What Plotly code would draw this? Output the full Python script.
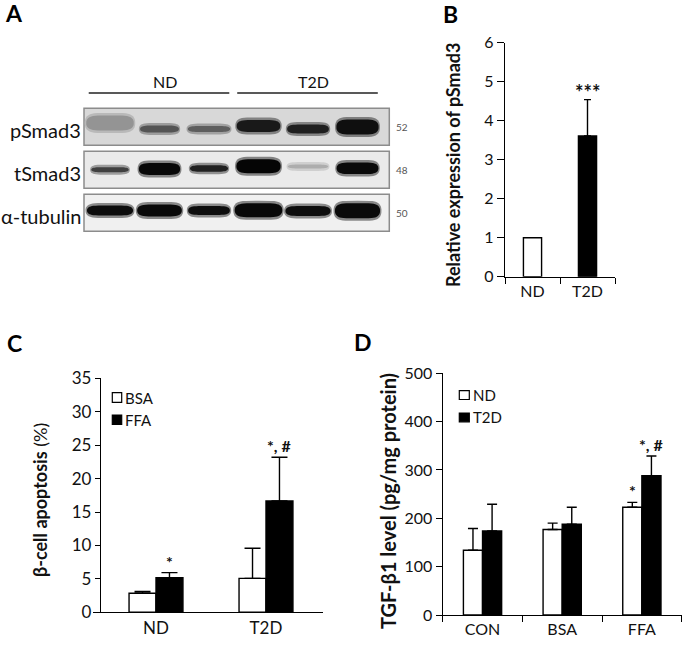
import math
import plotly.graph_objects as go

# ---------------- data ----------------
# Panel A (western blot, band densities)
blot_rows = ["pSmad3", "tSmad3", "α-tubulin"]
blot_mw = ["52", "48", "50"]
lane_groups = ["ND", "ND", "ND", "T2D", "T2D", "T2D"]
band_density = [
    [0.42, 0.67, 0.63, 0.90, 0.88, 0.94],   # pSmad3
    [0.75, 0.97, 0.87, 0.98, 0.32, 0.96],   # tSmad3
    [0.95, 0.96, 0.95, 0.97, 0.95, 0.96],   # alpha-tubulin
]
band_thickness = [
    [15, 7, 6, 12, 9, 15],
    [5, 12, 6.5, 14, 4, 11.5],
    [10, 12, 9, 14, 10, 15],
]
band_width = [
    [0.99, 0.81, 0.88, 0.91, 0.87, 0.88],
    [0.78, 0.86, 0.79, 0.92, 0.84, 0.87],
    [0.96, 0.93, 0.87, 0.99, 0.94, 0.94],
]
band_shift = [
    [-3.7, 2.3, 2.3, -0.7, 2.3, 0.3],
    [0.0, -0.7, -1.2, -3.4, -3.2, -1.4],
    [-2.2, -2.2, -2.2, -2.4, -1.7, -1.9],
]

# Panel B
b_groups = ["ND", "T2D"]
b_values = [1.0, 3.61]
b_errors = [0.0, 0.93]
b_sig = ["", "***"]

# Panel C
c_groups = ["ND", "T2D"]
c_bsa = [2.84, 5.08]
c_bsa_err = [0.26, 4.49]
c_ffa = [5.18, 16.65]
c_ffa_err = [0.75, 6.55]
c_sig_ffa = ["*", "*, #"]

# Panel D
d_groups = ["CON", "BSA", "FFA"]
d_nd = [134, 177, 223]
d_nd_err = [45, 13, 10]
d_t2d = [174, 188, 288]
d_t2d_err = [55, 35, 41]
d_sig_nd = ["", "", "*"]
d_sig_t2d = ["", "", "*, #"]

# ---------------- layout helpers ----------------
W, H = 685, 646
FONT = "Lato"
INK = "#111111"


def px(x):
    return x / W


def py(y):
    return 1 - y / H


fig = go.Figure()
shapes = []
annotations = []

bar_line = dict(color="black", width=1.4)

# ---------------- Panel B ----------------
b_colors = ["white", "black"]
for g, v, e, col in zip(b_groups, b_values, b_errors, b_colors):
    fig.add_trace(go.Bar(
        x=[g], y=[v], width=0.33, offset=-0.165,
        marker=dict(color=col, line=bar_line),
        error_y=dict(type="data", array=[e], arrayminus=[0], symmetric=False,
                     color="black", thickness=1.4, width=3.5, visible=e > 0),
        xaxis="x", yaxis="y", showlegend=False, hoverinfo="skip"))
for i, (v, e, s) in enumerate(zip(b_values, b_errors, b_sig)):
    if s:
        annotations.append(dict(x=i, y=v + e, xref="x", yref="y", text="<b>%s</b>" % s,
                                showarrow=False, xanchor="center", yanchor="bottom", yshift=-6,
                                font=dict(size=20, color=INK, family=FONT)))

# ---------------- Panel C ----------------
cw = 0.245
fig.add_trace(go.Bar(
    x=c_groups, y=c_bsa, width=cw, offset=-cw, name="BSA",
    marker=dict(color="white", line=bar_line),
    error_y=dict(type="data", array=c_bsa_err, arrayminus=[0] * len(c_bsa), symmetric=False,
                 color="black", thickness=1.4, width=8),
    xaxis="x2", yaxis="y2", showlegend=False, hoverinfo="skip"))
fig.add_trace(go.Bar(
    x=c_groups, y=c_ffa, width=cw, offset=0, name="FFA",
    marker=dict(color="black", line=bar_line),
    error_y=dict(type="data", array=c_ffa_err, arrayminus=[0] * len(c_ffa), symmetric=False,
                 color="black", thickness=1.4, width=8),
    xaxis="x2", yaxis="y2", showlegend=False, hoverinfo="skip"))
for i, (v, e, s) in enumerate(zip(c_ffa, c_ffa_err, c_sig_ffa)):
    if s:
        annotations.append(dict(x=i + cw / 2, y=v + e, xref="x2", yref="y2", text="<b>%s</b>" % s,
                                showarrow=False, xanchor="center", yanchor="bottom", yshift=0,
                                font=dict(size=16, color=INK, family=FONT)))

# ---------------- Panel D ----------------
dw = 0.24
fig.add_trace(go.Bar(
    x=d_groups, y=d_nd, width=dw, offset=-dw, name="ND",
    marker=dict(color="white", line=bar_line),
    error_y=dict(type="data", array=d_nd_err, arrayminus=[0] * len(d_nd), symmetric=False,
                 color="black", thickness=1.4, width=5),
    xaxis="x3", yaxis="y3", showlegend=False, hoverinfo="skip"))
fig.add_trace(go.Bar(
    x=d_groups, y=d_t2d, width=dw, offset=0, name="T2D",
    marker=dict(color="black", line=bar_line),
    error_y=dict(type="data", array=d_t2d_err, arrayminus=[0] * len(d_t2d), symmetric=False,
                 color="black", thickness=1.4, width=5),
    xaxis="x3", yaxis="y3", showlegend=False, hoverinfo="skip"))
for vals, errs, sigs, off in [(d_nd, d_nd_err, d_sig_nd, -dw / 2), (d_t2d, d_t2d_err, d_sig_t2d, dw / 2)]:
    for i, (v, e, s) in enumerate(zip(vals, errs, sigs)):
        if s:
            annotations.append(dict(x=i + off, y=v + e, xref="x3", yref="y3", text="<b>%s</b>" % s,
                                    showarrow=False, xanchor="center", yanchor="bottom", yshift=0,
                                    font=dict(size=16, color=INK, family=FONT)))

# ---------------- Panel A (blot) ----------------
LANE_PITCH = 49.5      # px per lane
LANE1_PX = 110.0
ROW_PITCH = 43.0       # px per row
ROW0_PX = 126.7
ax_x0, ax_x1 = 80, 394
ax_y0, ax_y1 = 70, 235
x4_range = [1 + (ax_x0 - LANE1_PX) / LANE_PITCH, 1 + (ax_x1 - LANE1_PX) / LANE_PITCH]
y4_range = [(ax_y1 - ROW0_PX) / ROW_PITCH, (ax_y0 - ROW0_PX) / ROW_PITCH]

# a blank trace to activate the blot axes
fig.add_trace(go.Scatter(x=[1, 6], y=[0, 2], mode="markers", marker=dict(opacity=0),
                         xaxis="x4", yaxis="y4", showlegend=False, hoverinfo="skip"))

box_left = 1 + (84 - LANE1_PX) / LANE_PITCH
box_right = 1 + (389.3 - LANE1_PX) / LANE_PITCH
box_fill = ["#d8d8d8", "#eaeaea", "#f0f0f0"]
box_half = 18.5 / ROW_PITCH


def gray(level):
    g = max(0, min(255, int(round(level))))
    return "rgb(%d,%d,%d)" % (g, g, g)


def band_path(cx, cy, hw, hh, n=48):
    pts = []
    for k in range(n):
        t = 2 * math.pi * k / n
        c, s = math.cos(t), math.sin(t)
        x = cx + hw * math.copysign(abs(c) ** 0.35, c)
        y = cy + hh * math.copysign(abs(s) ** 0.9, s)
        pts.append("%.4f,%.4f" % (x, y))
    return "M" + "L".join(pts) + "Z"


for r, name in enumerate(blot_rows):
    shapes.append(dict(type="rect", xref="x4", yref="y4", x0=box_left, x1=box_right,
                       y0=r - box_half, y1=r + box_half, fillcolor=box_fill[r],
                       line=dict(color="#8c8c8c", width=1.5), layer="above"))
for r, name in enumerate(blot_rows):
    bg = int(box_fill[r][1:3], 16)
    for j in range(len(lane_groups)):
        d = band_density[r][j]
        core = 255 * (1 - d)
        halo = core + (bg - core) * 0.55
        cx = j + 1
        cy = r + band_shift[r][j] / ROW_PITCH
        hw = band_width[r][j] / 2
        hh = band_thickness[r][j] / 2 / ROW_PITCH
        shapes.append(dict(type="path", xref="x4", yref="y4",
                           path=band_path(cx, cy, hw * 1.03, hh + 2.5 / ROW_PITCH),
                           fillcolor=gray(halo), line=dict(width=0), layer="above"))
        shapes.append(dict(type="path", xref="x4", yref="y4",
                           path=band_path(cx, cy, hw * 0.97, hh),
                           fillcolor=gray(core), line=dict(width=0), layer="above"))
    annotations.append(dict(x=px(83), y=r, xref="paper", yref="y4", text=name, xanchor="right",
                            yanchor="middle", yshift=-3, showarrow=False,
                            font=dict(size=20, color=INK, family=FONT)))
    annotations.append(dict(x=px(394), y=r, xref="paper", yref="y4", text=blot_mw[r], xanchor="left",
                            yanchor="middle", showarrow=False,
                            font=dict(size=10, color="#555555", family=FONT)))

# group labels and lines above blot
groups_seen = []
for g in lane_groups:
    if g not in groups_seen:
        groups_seen.append(g)
for g in groups_seen:
    lanes = [j + 1 for j, gg in enumerate(lane_groups) if gg == g]
    shapes.append(dict(type="line", xref="x4", yref="y4", x0=lanes[0] - 0.43, x1=lanes[-1] + 0.41,
                       y0=(93 - ROW0_PX) / ROW_PITCH, y1=(93 - ROW0_PX) / ROW_PITCH,
                       line=dict(color="#222222", width=1.6)))
    annotations.append(dict(x=sum(lanes) / len(lanes) + 0.12, y=(81 - ROW0_PX) / ROW_PITCH,
                            xref="x4", yref="y4", text=g, showarrow=False,
                            xanchor="center", yanchor="middle",
                            font=dict(size=16, color=INK, family=FONT)))

# ---------------- legends (manual) ----------------
def legend_item(x_sq, y_top, size_w, size_h, color, label, fs):
    shapes.append(dict(type="rect", xref="paper", yref="paper",
                       x0=px(x_sq), x1=px(x_sq + size_w), y0=py(y_top + size_h), y1=py(y_top),
                       fillcolor=color, line=dict(color="black", width=1.2)))
    annotations.append(dict(x=px(x_sq + size_w + 1.5), y=py(y_top + size_h / 2), xref="paper", yref="paper",
                            text=label, xanchor="left", yanchor="middle", showarrow=False,
                            font=dict(size=fs, color=INK, family=FONT)))


legend_item(112.3, 392.7, 9.4, 9.6, "white", "BSA", 15)
legend_item(112.3, 415.0, 9.4, 9.4, "black", "FFA", 15)
legend_item(459.3, 390.7, 10, 8.8, "white", "ND", 15)
legend_item(459.3, 413.0, 10, 8.8, "black", "T2D", 15)

# ---------------- titles & panel letters ----------------
annotations += [
    dict(x=px(453), y=py(165), xref="paper", yref="paper", text="<b>Relative expression of pSmad3</b>",
         textangle=-90, showarrow=False, xanchor="center", yanchor="middle",
         font=dict(size=18, color=INK, family=FONT)),
    dict(x=px(40), y=py(500), xref="paper", yref="paper", text="<b>β-cell apoptosis</b> (%)",
         textangle=-90, showarrow=False, xanchor="center", yanchor="middle",
         font=dict(size=18, color=INK, family=FONT)),
    dict(x=px(388), y=py(501), xref="paper", yref="paper", text="<b>TGF-β1 level (pg/mg protein)</b>",
         textangle=-90, showarrow=False, xanchor="center", yanchor="middle",
         font=dict(size=20, color=INK, family=FONT)),
]
for letter, (lx, ly) in zip("ABCD", [(14, 13), (450, 14), (14, 343), (363, 342)]):
    annotations.append(dict(x=px(lx), y=py(ly), xref="paper", yref="paper", text="<b>%s</b>" % letter,
                            showarrow=False, xanchor="center", yanchor="middle",
                            font=dict(size=23, color="black", family=FONT)))

# ---------------- axes ----------------
def yax(domain, rng, dtick, fs, **kw):
    d = dict(domain=domain, range=rng, dtick=dtick, tick0=0, showline=True, linecolor="black",
             linewidth=1.3, ticks="outside", ticklen=6, tickwidth=1.3, tickcolor="black",
             showgrid=False, zeroline=False, fixedrange=True, automargin=False,
             tickfont=dict(size=fs, color=INK, family=FONT))
    d.update(kw)
    return d


def xax(domain, cats, rng, fs, anchor, ticks=True):
    return dict(domain=domain, type="category", categoryorder="array", categoryarray=cats,
                range=rng, showline=True, linecolor="black", linewidth=1.3,
                ticks="outside" if ticks else "", tickson="boundaries", ticklen=6,
                tickwidth=1.3, tickcolor="black", showgrid=False, zeroline=False,
                fixedrange=True, anchor=anchor, automargin=False,
                tickfont=dict(size=fs, color=INK, family=FONT))


fig.update_layout(
    width=W, height=H, margin=dict(l=0, r=0, t=0, b=0, pad=0, autoexpand=False),
    paper_bgcolor="white", plot_bgcolor="rgba(0,0,0,0)",
    barmode="overlay", showlegend=False,
    font=dict(family=FONT, color=INK),
    xaxis=xax([px(505), px(615)], b_groups, [-0.5, 1.5], 16, "y"),
    yaxis=yax([py(276.7), py(42.7)], [0, 6], 1, 16, anchor="x", ticklen=7),
    xaxis2=xax([px(93.3), px(323.3)], c_groups, [-0.57, 1.521], 17, "y2", ticks=False),
    yaxis2=yax([py(612.3), py(378.3)], [0, 35], 5, 17, anchor="free", position=px(100), ticklen=5),
    xaxis3=xax([px(442.7), px(681.7)], d_groups, [-0.5, 2.5], 16, "y3"),
    yaxis3=yax([py(615), py(373.3)], [0, 500], 100, 16, anchor="x3", ticklen=6),
    xaxis4=dict(domain=[px(ax_x0), px(ax_x1)], range=x4_range, visible=False, anchor="y4", fixedrange=True),
    yaxis4=dict(domain=[py(ax_y1), py(ax_y0)], range=y4_range, visible=False, anchor="x4", fixedrange=True),
    shapes=shapes, annotations=annotations,
)

fig.write_html("out.html", config={"displayModeBar": False},
               post_script="document.body.style.margin='0';")
